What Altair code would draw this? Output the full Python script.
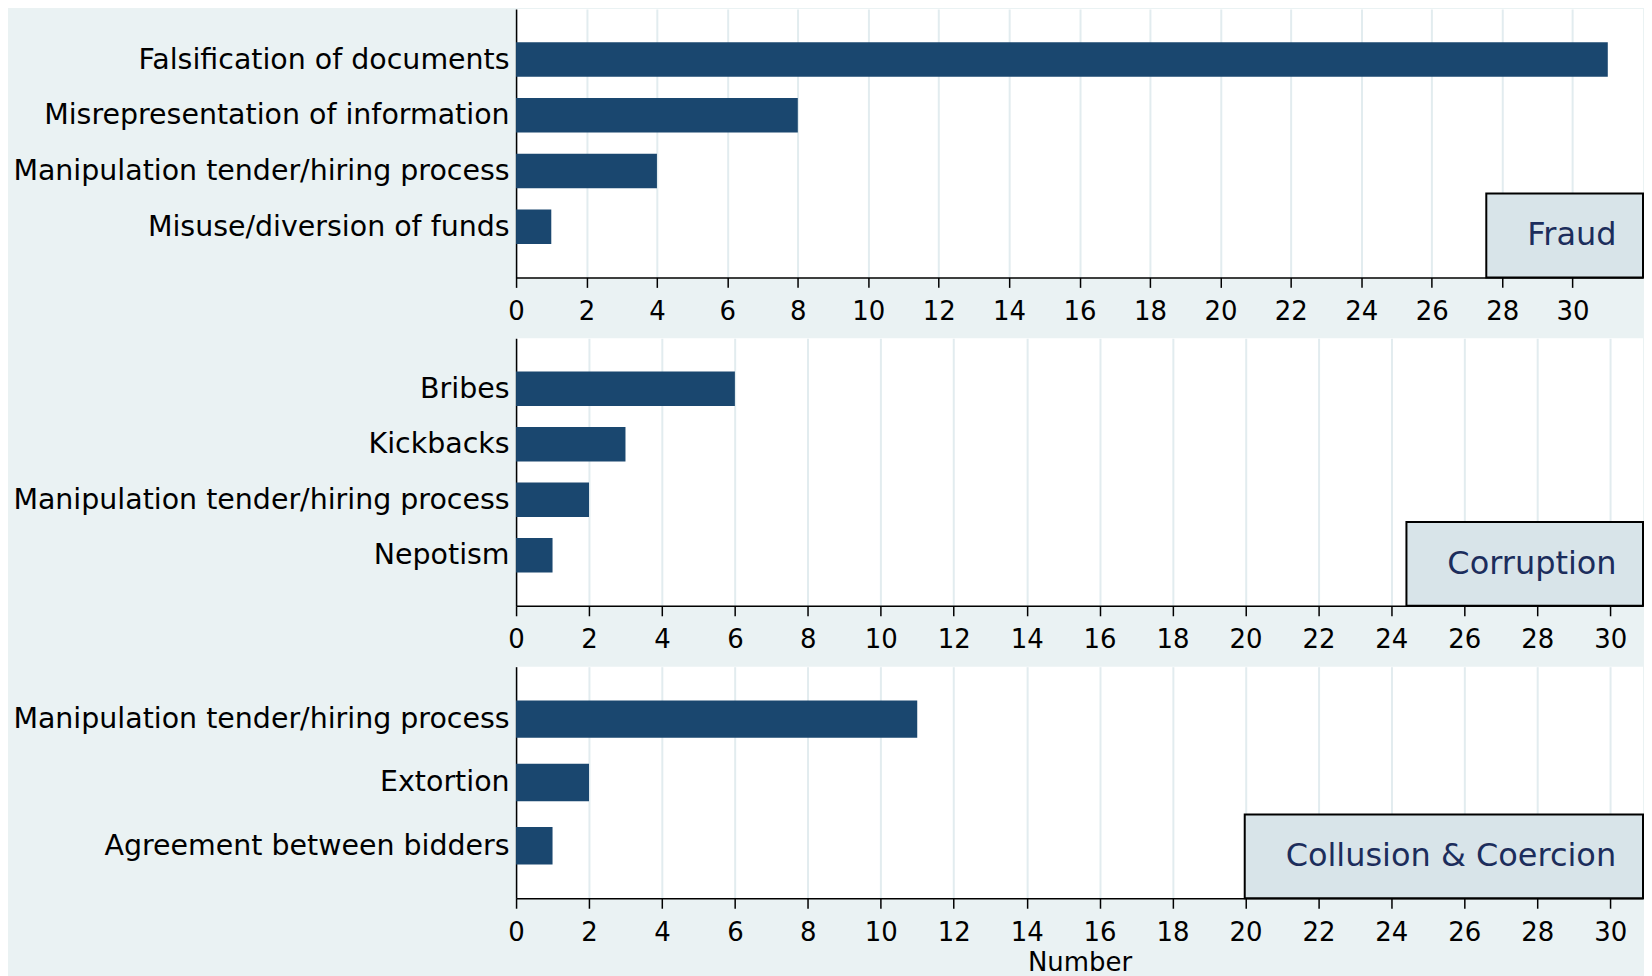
import altair as alt
import pandas as pd

fraud_cats = ["Falsification of documents", "Misrepresentation of information",
              "Manipulation tender/hiring process", "Misuse/diversion of funds"]
fraud_vals = [31, 8, 4, 1]

corr_cats = ["Bribes", "Kickbacks", "Manipulation tender/hiring process", "Nepotism"]
corr_vals = [6, 3, 2, 1]

coll_cats = ["Manipulation tender/hiring process", "Extortion", "Agreement between bidders"]
coll_vals = [11, 2, 1]

groups = ["Fraud", "Corruption", "Collusion & Coercion"]
tick_vals = list(range(0, 31, 2))

FONT = "DejaVu Sans"
NAVY = "#1a476f"


def panel(cats, vals, group, xmax, height, pin, pout, title=None):
    df = pd.DataFrame({"cat": cats, "value": vals, "group": group})
    xaxis_kw = dict(values=tick_vals, grid=True, gridColor="#e2ecef", gridWidth=2,
                    tickSize=10, tickWidth=1.5, tickColor="black",
                    domainColor="black", domainWidth=1.5,
                    labelPadding=11, labelFontSize=26, labelFont=FONT,
                    labelColor="black", labelFlush=False)
    if title is not None:
        xaxis_kw.update(title=title, titleFont=FONT, titleFontSize=26,
                        titleFontWeight="normal", titleColor="black", titlePadding=4)
    else:
        xaxis_kw.update(title=None)
    return alt.Chart(df).mark_bar().encode(
        x=alt.X("value:Q", scale=alt.Scale(domain=[0, xmax], nice=False, zero=True),
                axis=alt.Axis(**xaxis_kw)),
        y=alt.Y("cat:N", sort=cats,
                scale=alt.Scale(paddingInner=pin, paddingOuter=pout),
                axis=alt.Axis(title=None, ticks=False, tickSize=0, grid=False,
                              labelPadding=7, labelFontSize=28.5, labelFont=FONT,
                              labelColor="black", labelLimit=700,
                              domainColor="black", domainWidth=1.5)),
        color=alt.Color("group:N", scale=alt.Scale(domain=[group], range=[NAVY]),
                        legend=alt.Legend(title=None, orient="bottom-right", offset=0,
                                          padding=26, fillColor="#d8e4e9",
                                          strokeColor="black",
                                          labelFont=FONT, labelFontSize=32,
                                          labelColor="#1c2d5c", labelLimit=700,
                                          symbolOpacity=0, symbolSize=16,
                                          symbolStrokeWidth=0, symbolType="square",
                                          labelOffset={"expr": "-17"})),
    ).properties(width=1129, height=height)


p1 = panel(fraud_cats, fraud_vals, groups[0], 32, 269, 0.38, 0.6)
p2 = panel(corr_cats, corr_vals, groups[1], 30.9, 268, 0.38, 0.6)
p3 = panel(coll_cats, coll_vals, groups[2], 30.9, 232, 0.41, 0.535, title="Number")

chart = alt.vconcat(p1, p2, p3, spacing=14).resolve_scale(
    color="independent", x="independent", y="independent"
).resolve_legend(color="independent").properties(
    padding={"left": 4, "top": 0, "right": 0, "bottom": 0},
    background="#eaf2f3",
).configure_view(fill="white", strokeWidth=0).configure_legend(strokeWidth=2)

chart.save("out.html", embed_options={"renderer": "svg", "actions": False})
